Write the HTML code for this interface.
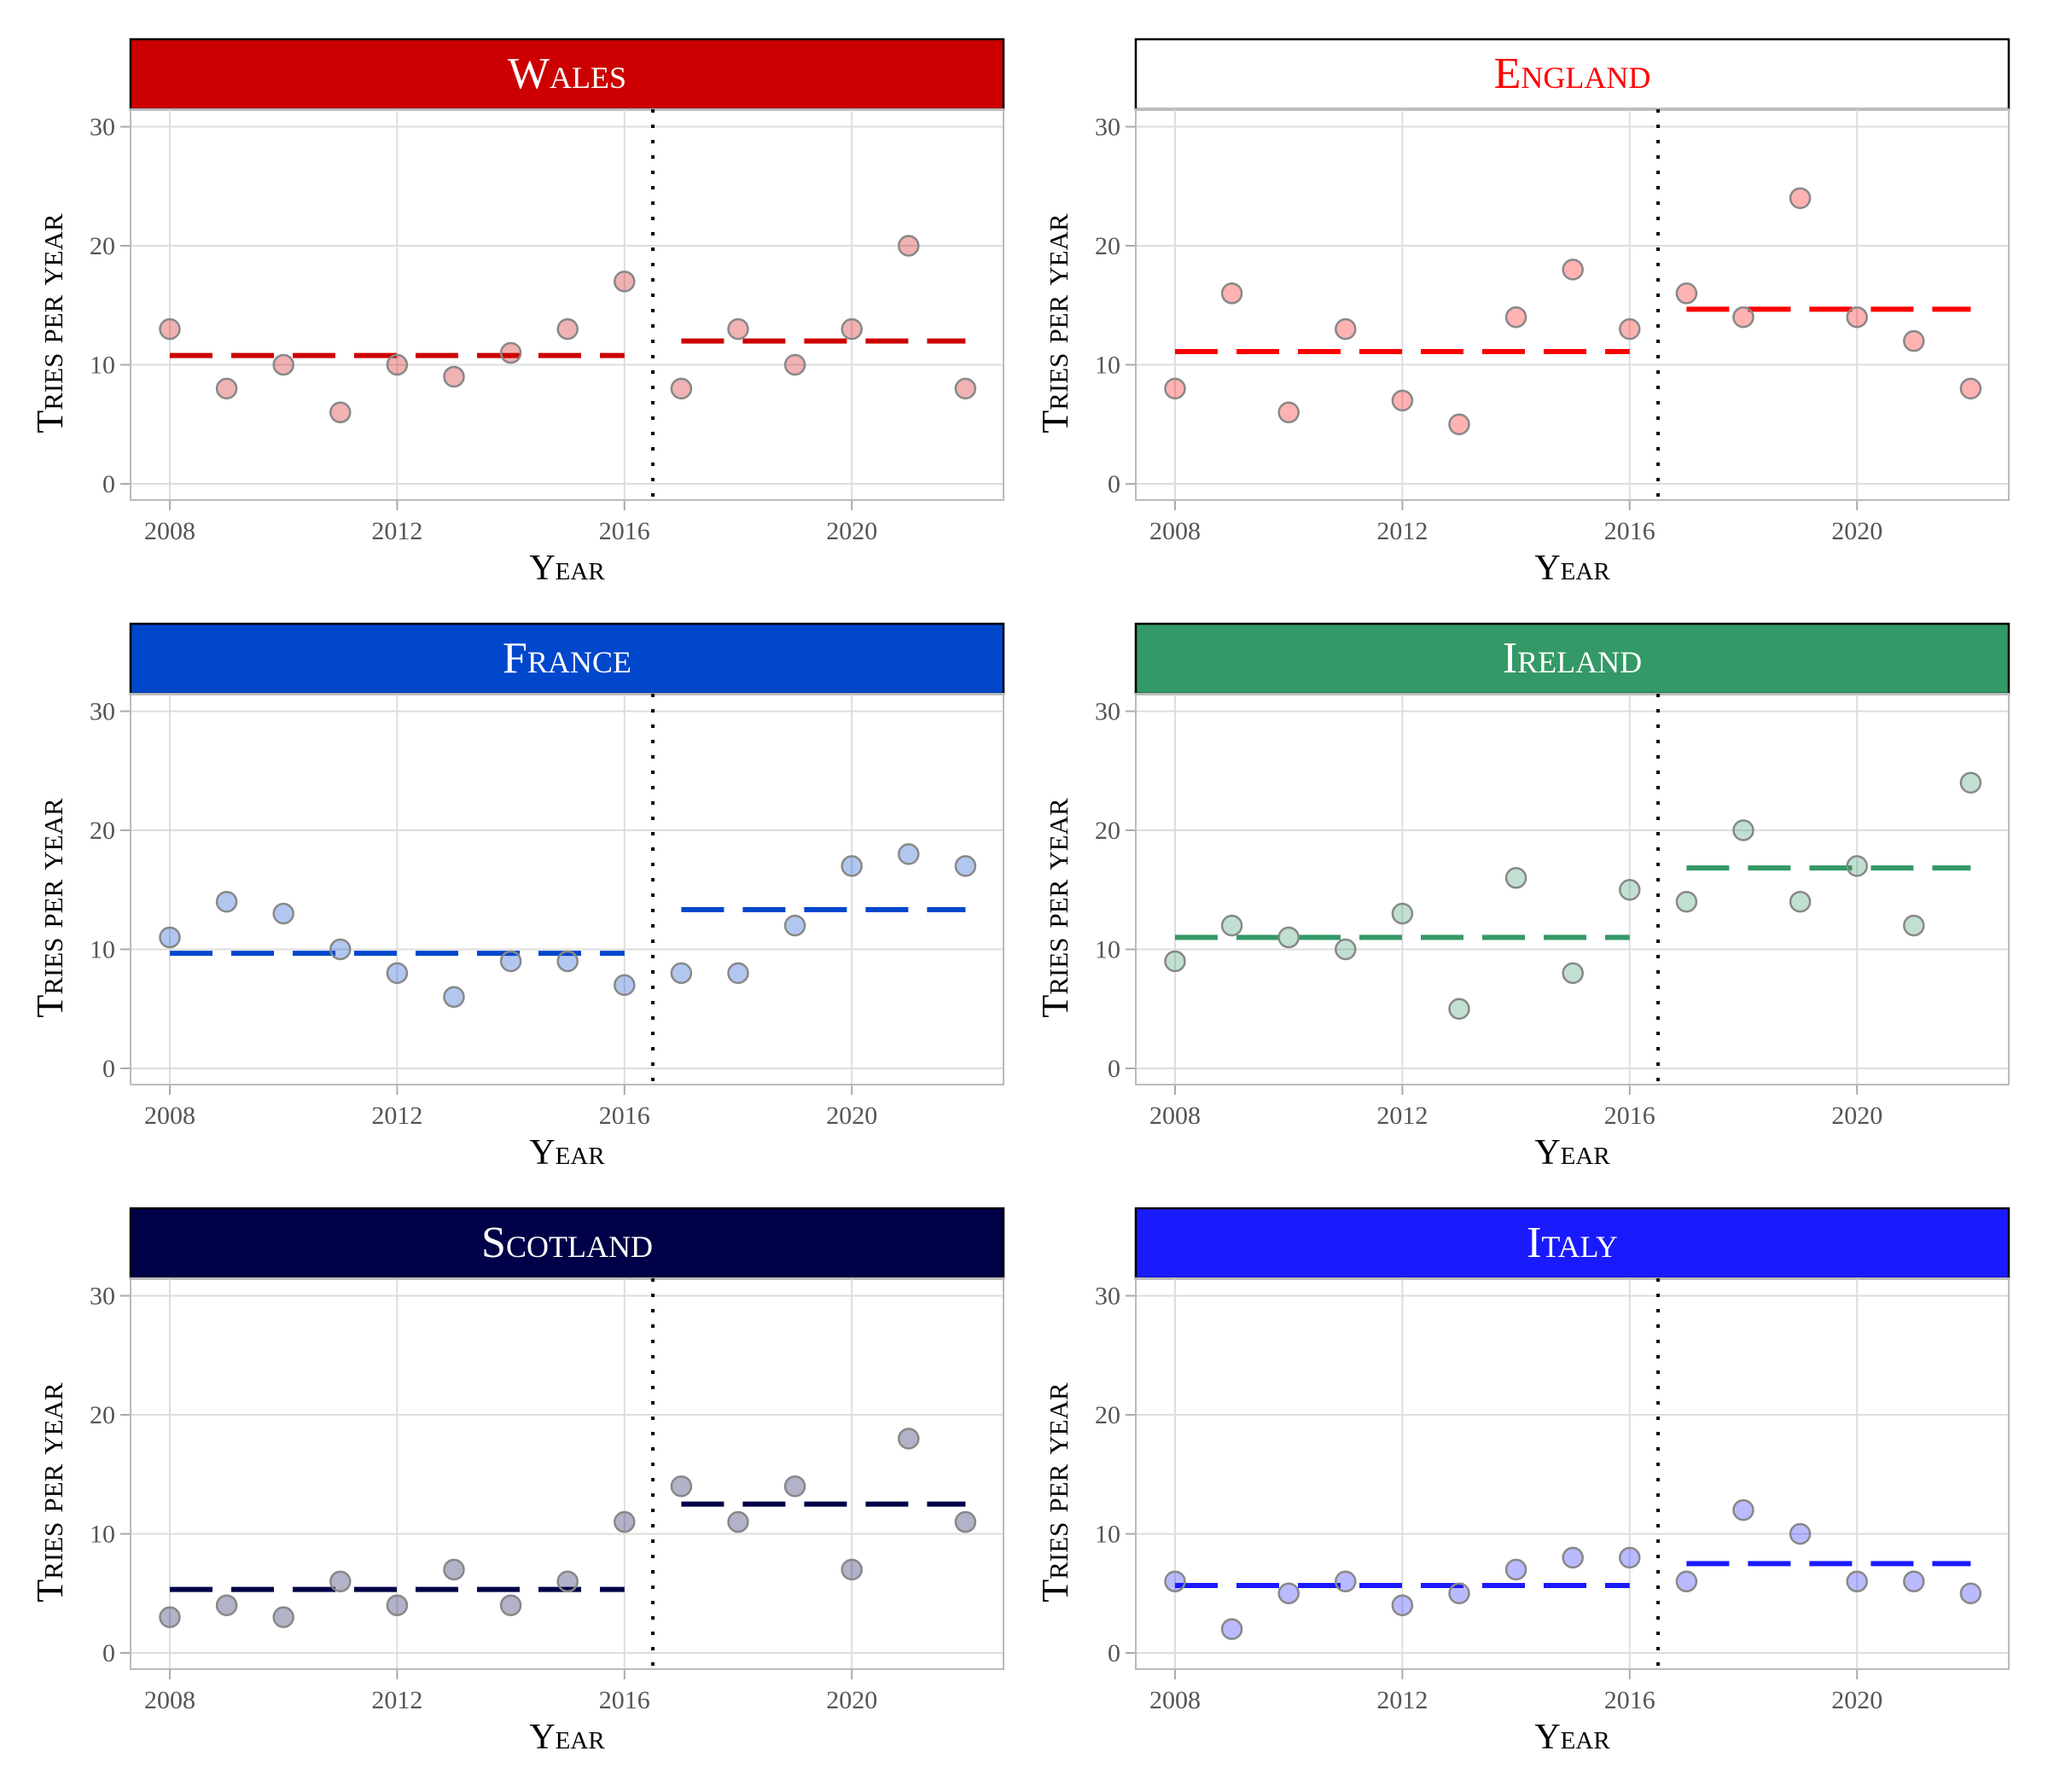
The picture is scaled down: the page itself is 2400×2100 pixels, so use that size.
<!DOCTYPE html>
<html><head><meta charset="utf-8"><style>
html,body{margin:0;padding:0;background:#fff;}
svg{display:block;}
text{font-family:"Liberation Serif",serif;}
</style></head><body>
<svg id="chart" width="2400" height="2100" viewBox="0 0 2400 2100" xmlns="http://www.w3.org/2000/svg"></svg>
<script>
const years = [2008,2009,2010,2011,2012,2013,2014,2015,2016,2017,2018,2019,2020,2021,2022];
const teams = ["Wales","England","France","Ireland","Scotland","Italy"];
const walesTries = [13,8,10,6,10,9,11,13,17,8,13,10,13,20,8];
const englandTries = [8,16,6,13,7,5,14,18,13,16,14,24,14,12,8];
const franceTries = [11,14,13,10,8,6,9,9,7,8,8,12,17,18,17];
const irelandTries = [9,12,11,10,13,5,16,8,15,14,20,14,17,12,24];
const scotlandTries = [3,4,3,6,4,7,4,6,11,14,11,14,7,18,11];
const italyTries = [6,2,5,6,4,5,7,8,8,6,12,10,6,6,5];
const xTicks = [2008,2012,2016,2020];
const yTicks = [0,10,20,30];
const splitYear = 2016.5;

const series = [walesTries,englandTries,franceTries,irelandTries,scotlandTries,italyTries];
const stripFill = ["#CC0000","#FFFFFF","#0047CC","#339966","#000048","#1A1AFF"];
const stripText = ["#FFFFFF","#FF0000","#FFFFFF","#FFFFFF","#FFFFFF","#FFFFFF"];
const lineCol = ["#CC0000","#FF0000","#0047CC","#339966","#000048","#1A1AFF"];

const NS="http://www.w3.org/2000/svg";
const svg=document.getElementById('chart');
function mk(tag,attrs,parent){const e=document.createElementNS(NS,tag);for(const k in attrs)e.setAttribute(k,attrs[k]);(parent||svg).appendChild(e);return e;}

teams.forEach((team,i)=>{
  const col=i%2,row=Math.floor(i/2);
  const ox=col*1178, oy=row*685;
  const L=153+ox, R=1176+ox, T=128+oy, B=586+oy;
  const xS=v=>199+ox+(v-2008)*66.6;
  const yS=v=>567+oy-(v)*13.95;
  const g=mk('g',{});
  
  
  const s=mk('rect',{x:L,y:46+oy,width:R-L,height:T-46-oy,fill:stripFill[i],stroke:'#000','stroke-width':2.5},g);
  
  
  const st=mk('text',{x:(L+R)/2,y:103+oy,'text-anchor':'middle','font-size':52,fill:stripText[i],'font-variant':'small-caps'},g);
  st.textContent=team;
  
  
  yTicks.forEach(v=>{
    mk('line',{x1:L,x2:R,y1:yS(v),y2:yS(v),stroke:'#dddddd','stroke-width':2},g);
    mk('line',{x1:L-12,x2:L,y1:yS(v),y2:yS(v),stroke:'#aaaaaa','stroke-width':2},g);
    const t=mk('text',{x:L-18,y:yS(v)+10,'text-anchor':'end','font-size':30,fill:'#555'},g);
    t.textContent=v;
    
    
  });
  xTicks.forEach(v=>{
    mk('line',{x1:xS(v),x2:xS(v),y1:T,y2:B,stroke:'#dddddd','stroke-width':2},g);
    mk('line',{x1:xS(v),x2:xS(v),y1:B,y2:B+12,stroke:'#aaaaaa','stroke-width':2},g);
    const t=mk('text',{x:xS(v),y:632+oy,'text-anchor':'middle','font-size':30,fill:'#555'},g);
    t.textContent=v;
    
    
  });
  mk('rect',{x:L,y:T,width:R-L,height:B-T,fill:'none',stroke:'#bbbbbb','stroke-width':2},g);
  const sl=mk('line',{x1:xS(splitYear),x2:xS(splitYear),y1:T,y2:B,stroke:'#000','stroke-width':4,'stroke-dasharray':'4 14'},g);
  
  
  const vals=series[i];
  const pre=[],post=[];
  years.forEach((y,j)=>{(y<splitYear?pre:post).push(vals[j]);});
  const mean=a=>a.reduce((p,c)=>p+c,0)/a.length;
  const preYears=years.filter(y=>y<splitYear), postYears=years.filter(y=>y>splitYear);
  [[preYears,mean(pre),'pre'],[postYears,mean(post),'post']].forEach(([ys,m,nm])=>{
    const ml=mk('line',{x1:xS(ys[0]),x2:xS(ys[ys.length-1]),y1:yS(m),y2:yS(m),stroke:lineCol[i],'stroke-width':6,'stroke-dasharray':'50 22'},g);
    
    
  });
  years.forEach((y,j)=>{
    const c=mk('circle',{cx:xS(y),cy:yS(vals[j]),r:11.5,fill:lineCol[i],'fill-opacity':0.3,stroke:'#888','stroke-width':2.5},g);
    
    
  });
  const xt=mk('text',{x:(L+R)/2,y:679+oy,'text-anchor':'middle','font-size':42,fill:'#000','font-variant':'small-caps'},g);
  xt.textContent='Year';
  
  
  const yc=(T+B)/2+22;
  const yt=mk('text',{x:60+ox,y:yc,'text-anchor':'middle','font-size':44,fill:'#000','font-variant':'small-caps',transform:`rotate(-90 ${60+ox} ${yc}) translate(0 13)`},g);
  yt.textContent='Tries per year';
  
  
});
</script>
</body></html>
